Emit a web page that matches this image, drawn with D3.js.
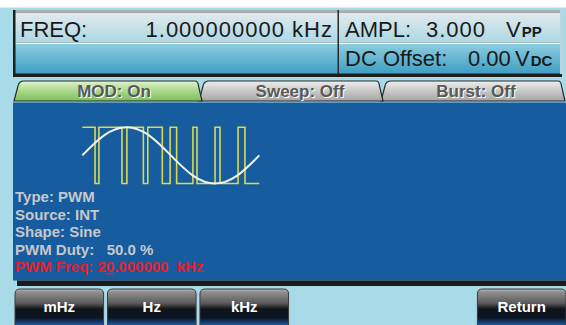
<!DOCTYPE html>
<html><head><meta charset="utf-8">
<script src="https://cdn.jsdelivr.net/npm/d3@7"></script>
<style>html,body{margin:0;padding:0;background:#a8dae7;}svg{display:block;}</style>
</head><body>
<script>
// ---------- data ----------
const freqLabel = "FREQ:";
const freqValue = "1.000000000 kHz";
const amplLabel = "AMPL:";
const amplValue = "3.000";
const offsetLabel = "DC Offset:";
const offsetValue = "0.00";
const tabLabels = ["MOD: On", "Sweep: Off", "Burst: Off"];
const infoLines = ["Type: PWM", "Source: INT", "Shape: Sine", "PWM Duty:   50.0 %"];
const pwmFreqParts = ["PWM Freq: 2", "0", ".000000  kHz"];
const buttonLabels = ["mHz", "Hz", "kHz", "", "", "Return"];
// PWM waveform: transition instants within one modulation period (0..1000), starts high
const pwmEdges = [72, 94, 224, 252, 345, 370, 452, 496, 533, 625, 648, 750, 778, 880, 919];
// modulating sine, read at 9 equally spaced instants (0..1000)
const sineT = [0, 125, 250, 375, 500, 625, 750, 875, 1000];
const sineV = [0, 0.72, 1, 0.72, 0, -0.72, -1, -0.72, 0];

// ---------- layout ----------
const W = 566, H = 325;
const FONT = "'Liberation Sans', Arial, sans-serif";
const svg = d3.select("body").append("svg").attr("width", W).attr("height", H);
const defs = svg.append("defs");
function grad(id, stops, y1 = 0, y2 = 1) {
  const g = defs.append("linearGradient").attr("id", id)
    .attr("x1", 0).attr("x2", 0).attr("y1", y1).attr("y2", y2);
  stops.forEach(s => g.append("stop").attr("offset", s[0]).attr("stop-color", s[1]));
}
grad("row1", [[0, "#e2eaed"], [1, "#acd8e4"]]);
grad("row2", [[0, "#8ccde0"], [1, "#3f9fc2"]]);
grad("tabOn", [[0, "#e2f2cc"], [0.5, "#a9d88a"], [1, "#7cbf5c"]]);
grad("tabOff", [[0, "#eeeeee"], [0.5, "#c8c8c8"], [1, "#a4a4a4"]]);
grad("btn", [[0, "#b4b4b4"], [0.08, "#8e8e8e"], [0.35, "#5c5c5c"], [0.5, "#121418"], [0.72, "#0a1424"], [0.88, "#1c4f8c"], [1, "#3f8ee0"]]);

// background
svg.append("rect").attr("width", W).attr("height", H).attr("fill", "#a8dae7");
svg.append("rect").attr("width", W).attr("height", 7.5).attr("fill", "#ffffff");

// ---------- top status panel ----------
const topG = svg.append("g");
topG.append("rect").attr("x", 13).attr("y", 10).attr("width", 549).attr("height", 67).attr("fill", "#1e1e1e");
topG.append("rect").attr("x", 15.5).attr("y", 10).attr("width", 546).attr("height", 2.5).attr("fill", "#a9b1b5");
topG.append("rect").attr("x", 15.5).attr("y", 12.5).attr("width", 546).attr("height", 30).attr("fill", "url(#row1)");
topG.append("rect").attr("x", 15.5).attr("y", 42.5).attr("width", 546).attr("height", 1.5).attr("fill", "#f4f8f8");
topG.append("rect").attr("x", 15.5).attr("y", 44).attr("width", 546).attr("height", 29.5).attr("fill", "url(#row2)");
topG.append("rect").attr("x", 560).attr("y", 10).attr("width", 2).attr("height", 64).attr("fill", "#c8d2d6");
topG.append("rect").attr("x", 337.5).attr("y", 10).attr("width", 1.5).attr("height", 64).attr("fill", "#2a2a2a");

topG.append("text").attr("x", 20).attr("y", 36.5).text(freqLabel)
  .attr("font-family", FONT).attr("font-size", 22).attr("fill", "#1a1a1a");
topG.append("text").attr("x", 333).attr("y", 36.5).attr("text-anchor", "end").text(freqValue)
  .attr("font-family", FONT).attr("font-size", 22).attr("letter-spacing", 1).attr("fill", "#1a1a1a");
topG.append("text").attr("x", 345).attr("y", 36.5).text(amplLabel)
  .attr("font-family", FONT).attr("font-size", 22).attr("fill", "#1a1a1a");
topG.append("text").attr("x", 426).attr("y", 36.5).text(amplValue)
  .attr("font-family", FONT).attr("font-size", 22).attr("letter-spacing", 1).attr("fill", "#1a1a1a");
const vpp = topG.append("text").attr("x", 506).attr("y", 36.5).attr("font-family", FONT).attr("fill", "#1a1a1a");
vpp.append("tspan").attr("font-size", 22).text("V");
vpp.append("tspan").attr("font-size", 15).attr("font-weight", "bold").attr("dx", 1).text("PP");
topG.append("text").attr("x", 345).attr("y", 66).text(offsetLabel)
  .attr("font-family", FONT).attr("font-size", 22).attr("fill", "#1a1a1a");
topG.append("text").attr("x", 468).attr("y", 66).text(offsetValue)
  .attr("font-family", FONT).attr("font-size", 22).attr("fill", "#1a1a1a");
const vdc = topG.append("text").attr("x", 515).attr("y", 66).attr("font-family", FONT).attr("fill", "#1a1a1a");
vdc.append("tspan").attr("font-size", 22).text("V");
vdc.append("tspan").attr("font-size", 15).attr("font-weight", "bold").attr("dx", 1).text("DC");

// ---------- tabs ----------
const tabBox = [[14, 202], [199, 383], [381, 565]];
const tabTextX = [114, 300, 476];
const tabY0 = 81, tabY1 = 101;
function tabPath(a, b) {
  const p = d3.path();
  p.moveTo(a, tabY1);
  p.lineTo(a + 4, tabY0 + 5);
  p.quadraticCurveTo(a + 5, tabY0, a + 10, tabY0);
  p.lineTo(b - 7, tabY0);
  p.quadraticCurveTo(b - 4, tabY0, b - 3.5, tabY0 + 5);
  p.lineTo(b, tabY1);
  p.closePath();
  return p.toString();
}
const tabOrder = [2, 1, 0];
const tabs = svg.append("g").selectAll("g").data(tabOrder).join("g");
tabs.append("path").attr("d", i => tabPath(tabBox[i][0], tabBox[i][1]))
  .attr("fill", i => i === 0 ? "url(#tabOn)" : "url(#tabOff)")
  .attr("stroke", "#2a2a2a").attr("stroke-width", 1.2);
tabs.append("text").attr("x", i => tabTextX[i] + 1).attr("y", 97.5).attr("text-anchor", "middle")
  .attr("font-family", FONT).attr("font-weight", "bold").attr("font-size", 17).attr("fill", "#ffffff")
  .text(i => tabLabels[i]);
tabs.append("text").attr("x", i => tabTextX[i]).attr("y", 96.5).attr("text-anchor", "middle")
  .attr("font-family", FONT).attr("font-weight", "bold").attr("font-size", 17).attr("fill", "#595959")
  .text(i => tabLabels[i]);

// ---------- main blue panel ----------
svg.append("rect").attr("x", 13).attr("y", 102.5).attr("width", W - 13).attr("height", 178).attr("fill", "#165c9e");
svg.append("rect").attr("x", 17).attr("y", 280.5).attr("width", W - 17).attr("height", 5.5).attr("fill", "#1b1b1b");

// waveform
const xw = d3.scaleLinear().domain([0, 1000]).range([82.3, 259.3]);
const yw = d3.scaleLinear().domain([-1, 1]).range([183.5, 127.3]);
const sq = [];
let lvl = 1;
sq.push([0, lvl]);
pwmEdges.forEach(e => { sq.push([e, lvl]); lvl = -lvl; sq.push([e, lvl]); });
sq.push([1000, lvl]);
svg.append("path").datum(sq)
  .attr("d", d3.line().x(d => xw(d[0])).y(d => yw(d[1])))
  .attr("fill", "none").attr("stroke", "#d9d94e").attr("stroke-width", 1.6);
svg.append("path").datum(sineT.map((t, i) => [t, sineV[i]]))
  .attr("d", d3.line().x(d => xw(d[0])).y(d => yw(d[1])).curve(d3.curveNatural))
  .attr("fill", "none").attr("stroke", "#f2f2f2").attr("stroke-width", 2);

// info lines
const lineY = d3.scaleLinear().domain([0, 4]).range([202, 272]);
svg.append("g").selectAll("text").data(infoLines).join("text")
  .attr("x", 15).attr("y", (d, i) => lineY(i))
  .attr("font-family", FONT).attr("font-weight", "bold").attr("font-size", 15)
  .attr("fill", "#c6c8cc").style("white-space", "pre").text(d => d);
const pf = svg.append("text").attr("x", 15).attr("y", lineY(4))
  .attr("font-family", FONT).attr("font-weight", "bold").attr("font-size", 15)
  .attr("fill", "#e3202a").style("white-space", "pre");
pf.append("tspan").text(pwmFreqParts[0]);
pf.append("tspan").attr("text-decoration", "underline").text(pwmFreqParts[1]);
pf.append("tspan").text(pwmFreqParts[2]);

// ---------- soft buttons ----------
const btnX = d3.scaleBand().domain(d3.range(6)).range([15, 566]).paddingInner(0.042).paddingOuter(0);
const btnG = svg.append("g").selectAll("g").data(buttonLabels.map((l, i) => ({ l, i })).filter(d => d.l))
  .join("g").attr("transform", d => `translate(${btnX(d.i)},289)`);
btnG.append("path")
  .attr("d", d => { const w = btnX.bandwidth(); return `M0,40V5Q0,0 5,0H${w - 5}Q${w},0 ${w},5V40Z`; })
  .attr("fill", "url(#btn)").attr("stroke", "#3a3a3a").attr("stroke-width", 1);
btnG.append("text").attr("x", btnX.bandwidth() / 2).attr("y", 22.5).attr("text-anchor", "middle")
  .attr("font-family", FONT).attr("font-weight", "bold").attr("font-size", 15).attr("fill", "#ffffff")
  .text(d => d.l);
</script>
</body></html>
